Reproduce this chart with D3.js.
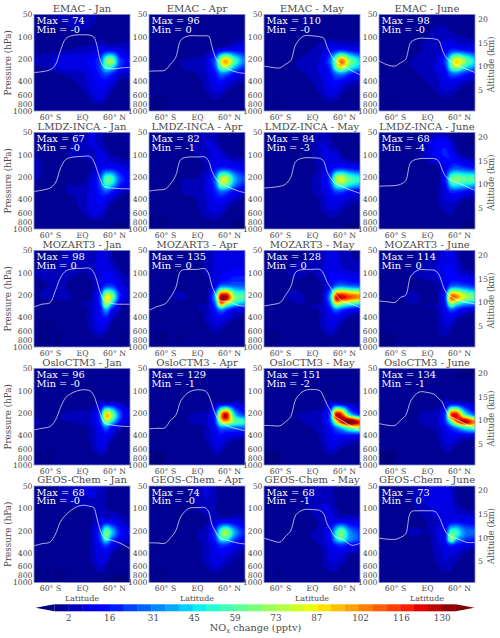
<!DOCTYPE html>
<html><head><meta charset="utf-8">
<script src="https://cdn.jsdelivr.net/npm/d3@7"></script>
<style>
html,body{margin:0;padding:0;background:#fff}
text{font-family:"DejaVu Serif",serif;}
</style></head><body><svg id="c" width="500" height="638"></svg>
<script>
const models=["EMAC","LMDZ-INCA","MOZART3","OsloCTM3","GEOS-Chem"];
const months=["Jan","Apr","May","June"];
const maxLabels=[[74,96,110,98],[67,82,84,68],[98,135,128,114],[96,129,151,134],[68,74,68,73]];
const minLabels=[["-0","0","-0","-0"],["-0","-1","-3","-4"],["0","0","0","0"],["-0","-1","-2","-1"],["-0","-0","-1","0"]];
const pressureTicks=[50,100,200,400,600,800,1000];
const altitudeTicks=[5,10,15,20];
const latTicks=[-60,0,60];
const latTickLabels=["60° S","EQ","60° N"];
const colorbarTicks=[2,16,31,45,59,73,87,102,116,130];
const gridLats=[-90,-60,-30,0,20,35,45,55,70,90];
const gridPressures=[50,70,100,150,210,260,310,400,600,1000];
const tropLats=[-90,-75,-60,-50,-40,-30,-15,0,15,22,28,34,42,60,75,90];

const emacJan=[4,4,5,6,5,3,3,3,3,3, 3,3,4,5,4,3,3,3,3,3, 2,2,3,3,3,3,3,3,3,3, 3,3,4,5,6,10,12,12,8,6, 5,6,11,11,14,25,62,74,25,12, 3,5,9,9,13,24,52,48,20,12, 2,3,5,6,11,18,26,20,8,6, 2,2,3,5,9,14,14,9,4,3, 1,1,2,3,7,10,7,3,2,2, 1,1,0,0,1,1,-0.5,0,0,0];
const emacApr=[0,0,1,1,1,1,1,1,1,1, 0,0,1,1,1,1,1,1,1,1, 1,1,1,1,1,2,3,3,3,3, 1,1,1,2,3,6,10,13,13,12, 1,2,4,5,8,30,80,98,60,30, 1,2,4,5,8,24,62,70,38,18, 1,1,3,4,7,16,32,28,16,8, 1,1,2,3,6,12,15,10,6,4, 0,0,1,2,4,6,5,3,2,2, 0,0,0,0,0,0,0,0,0,0];
const emacMay=[1,1,1,2,2,2,2,2,1,1, 1,1,1,2,2,2,2,2,2,2, 1,1,2,3,3,3,3,3,3,3, 1,1,2,4,6,12,16,18,14,10, 1,2,4,6,9,30,70,108,70,45, 1,2,4,6,9,22,60,85,55,38, 1,1,3,5,8,16,30,35,22,12, 1,1,2,4,7,13,15,12,7,5, 0,0,1,2,5,8,7,4,2,2, 0,0,0,0,0,0,0,0,0,0];
const emacJun=[1,1,1,2,3,3,3,3,2,1, 1,1,1,3,4,4,3,3,2,2, 1,1,2,4,6,6,6,5,4,3, 1,1,2,5,5,11,18,18,15,12, 1,2,4,6,8,24,62,92,70,45, 1,2,4,6,8,18,55,72,48,32, 1,1,3,5,7,12,28,30,20,12, 1,1,2,4,6,10,11,10,6,4, 0,0,1,2,4,5,5,3,2,1, 0,0,0,0,0,0,0,0,0,0];
const lmdzJan=[2,3,2,5,7,5,2,2,1,1, 3,3,3,6,7,6,3,2,1,1, 4,3,4,5,6,8,7,4,3,2, 5,3,3,2,4,12,14,14,10,7, 5,2,4,3,8,26,60,58,25,12, 2,2,4,4,9,24,50,42,18,8, 1,2,4,5,9,18,26,18,8,4, 1,2,3,5,9,14,10,6,3,2, 0,1,2,4,8,8,4,2,1,1, 0,0,0,0,0,0,0,-0.5,-0.5,0];
const lmdzApr=[1,1,1,4,6,4,2,1,1,1, 1,1,2,5,7,6,3,2,1,1, 1,2,3,4,6,9,8,5,3,3, 1,1,3,3,5,14,18,18,14,10, 1,2,4,4,9,30,78,80,40,22, 1,2,4,5,9,25,62,62,30,15, 1,1,4,5,8,18,30,25,14,6, 1,1,3,4,7,13,14,10,6,3, 0,0,1,3,6,7,6,3,1,1, 0,0,0,0,0,0,0,0,-0.5,-0.5];
const lmdzMay=[1,1,1,3,5,4,2,1,0,0, 1,1,2,4,7,5,3,2,1,0, 1,1,2,4,7,8,8,4,2,-0.5, 1,1,2,3,6,12,16,18,15,12, 1,1,3,4,8,25,72,82,62,50, 1,1,3,4,8,20,50,58,45,35, 1,1,3,4,7,14,24,24,16,10, 1,1,2,3,5,10,11,9,6,4, 0,0,1,2,4,6,6,4,3,2, 0,0,0,0,0,0,0,0,-1,-1];
const lmdzJun=[1,1,1,2,4,3,2,1,0,-1, 1,1,2,6,14,14,8,3,1,0, 1,1,2,6,14,17,15,8,3,2, 1,1,2,2,3,11,20,24,20,16, 1,1,3,0,2,18,60,66,62,60, 1,1,3,3,4,12,42,46,42,38, 1,1,2,3,4,9,20,20,15,10, 1,1,2,3,4,7,8,7,4,3, 0,0,1,2,3,4,5,3,2,1, 0,0,0,0,0,0,0,0,-1,-1];
const mozJan=[2,3,4,4,5,8,8,4,3,2, 3,3,5,4,5,9,9,5,3,2, 4,5,5,4,5,9,12,10,5,3, 3,4,4,0,4,10,22,22,10,5, 3,6,5,3,5,25,85,75,20,6, 1,1,3,4,6,20,78,45,8,4, 1,1,2,3,6,15,40,18,5,2, 0,0,1,3,6,14,16,7,2,1, 0,0,0,2,5,8,5,2,0,0, 0,0,0,0,0,0,0,0,0,0];
const mozApr=[1,2,2,3,5,7,8,8,9,8, 1,2,3,3,5,7,8,9,10,9, 2,3,4,3,5,8,10,12,14,14, 2,3,3,0,3,12,30,30,28,26, 1,3,5,2,4,45,135,135,70,60, 1,1,3,4,5,30,105,75,50,35, 1,1,2,4,5,18,36,24,12,8, 1,1,1,3,5,11,12,8,5,3, 0,0,0,2,3,5,4,2,1,1, 0,0,0,0,0,0,0,0,0,0];
const mozMay=[1,2,3,4,6,8,7,5,4,3, 2,2,4,4,6,9,9,6,5,4, 2,3,5,4,7,12,12,10,8,7, 2,3,3,1,4,14,28,32,28,25, 2,3,6,2,5,42,125,128,115,105, 1,1,4,4,5,30,85,72,60,50, 1,1,3,4,5,16,32,24,16,10, 1,1,2,3,5,11,11,8,4,3, 0,0,1,2,4,7,5,2,1,1, 0,0,0,0,0,0,0,0,0,0];
const mozJun=[1,1,2,3,5,9,9,5,2,5, 1,1,3,4,6,10,11,7,3,3, 1,2,4,5,8,12,14,10,6,5, 1,2,3,3,4,10,26,28,24,18, 1,3,5,3,4,24,112,105,80,62, 1,1,4,4,4,18,75,55,40,35, 1,1,3,4,4,12,28,20,12,8, 1,1,2,3,4,8,10,6,3,2, 0,0,1,2,4,6,4,2,1,1, 0,0,0,0,0,0,0,0,0,0];
const osloJan=[0,0,0,0,0,0,0,0,0,0, 0,0,0,0,0,0,0,0,0,0, 1,1,1,1,1,1,1,1,1,1, 1,1,1,1,2,8,10,10,6,3, 2,2,5,6,8,26,96,75,28,6, 5,3,4,5,8,22,70,50,18,5, 3,1,2,3,5,14,30,16,6,3, 1,1,1,3,5,10,12,7,3,2, 0,0,1,2,4,8,6,2,1,1, 0,0,0,0,0,0,0,0,0,0];
const osloApr=[0,0,0,0,0,0,0,0,0,0, 0,0,0,0,0,0,0,0,0,0, 1,1,1,1,1,1,1,1,1,1, 1,1,1,1,2,6,9,9,8,5, 1,1,3,5,6,24,100,129,45,20, 1,1,3,5,7,22,80,95,65,55, 1,1,2,3,5,14,32,32,30,28, 1,1,1,3,5,10,14,10,8,6, 0,0,1,2,3,7,6,3,2,2, 0,0,0,0,0,0,0,0,0,0];
const osloMay=[0,0,0,0,0,0,0,0,0,0, 0,0,0,0,0,0,0,0,0,0, 1,1,1,1,1,1,1,1,1,1, 1,1,1,2,3,8,12,10,6,4, 1,1,4,5,7,30,130,120,50,18, 1,1,3,5,7,25,80,125,151,120, 1,1,3,4,6,15,30,45,70,80, 1,1,2,3,5,11,15,14,14,12, 0,0,1,2,4,7,6,4,3,3, 0,0,0,0,0,0,0,0,0,0];
const osloJun=[0,0,0,0,0,0,0,0,0,0, 0,0,0,0,1,1,1,0,0,0, 1,1,1,1,2,3,3,2,1,1, 1,1,1,2,3,7,14,14,8,5, 1,1,3,5,6,25,115,125,60,25, 1,1,3,5,6,22,60,105,134,105, 1,1,2,4,5,12,22,35,55,65, 1,1,2,3,4,9,11,10,10,9, 0,0,1,2,3,5,5,3,2,2, 0,0,0,0,0,0,0,0,0,0];
const geosJan=[2,3,5,7,8,6,4,3,2,2, 3,3,5,6,7,5,4,2,2,2, 3,3,3,4,4,5,4,3,3,3, 2,1,2,3,4,10,12,12,7,4, 2,1,2,3,6,25,68,45,18,7, 0.5,1,1,3,6,22,55,28,12,6, 0.5,0.5,1,2,5,15,24,13,6,3, 0.5,0.5,1,2,5,10,11,5,2,2, 0,0,0,1,4,7,5,2,1,0.5, 0,0,0,0,0,0,-0.5,-1,-1,0];
const geosApr=[1,1,2,5,7,4,2,1,1,1, 1,1,2,5,7,5,2,2,1,1, 1,1,2,4,5,4,3,3,2,2, 1,1,2,3,4,8,10,11,10,7, 1,1,3,4,7,24,60,74,38,16, 0.5,1,3,4,7,20,50,52,25,12, 0.5,1,2,3,6,13,22,20,12,6, 0.5,1,1,3,6,10,12,9,6,3, 0,0,1,2,5,7,6,4,3,1, 0,0,0,0,0,0,0,0,0,0];
const geosMay=[1,1,2,4,5,5,2,1,1,1, 1,1,2,5,6,6,3,2,1,1, 1,1,2,5,7,7,4,3,2,1, 1,1,2,3,5,9,11,12,10,8, 1,1,4,4,6,16,48,68,35,22, 1,1,3,4,6,14,42,55,36,24, 1,1,2,3,5,10,18,22,15,10, 1,1,1,3,4,8,9,9,5,4, 0,0,1,2,4,6,6,4,2,2, 0,0,0,0,0,0,0,0,0,0];
const geosJun=[1,2,4,7,10,9,6,3,3,2, 1,2,4,8,10,10,7,4,0.5,1, 1,1,3,6,10,10,8,6,4,3, 1,1,2,4,6,9,12,13,12,10, 1,1,5,4,8,16,58,55,32,28, 1,1,3,3,7,16,73,40,24,18, 1,1,2,3,6,12,20,15,10,7, 1,1,2,3,5,8,8,7,4,3, 0,0,1,2,4,6,5,3,2,1, 0,0,0,0,0,0,0,0,0,0];

const tropEmacJan=[303,295,278,240,150,105,95,94,95,100,130,205,255,270,262,258];
const tropEmacApr=[290,288,282,235,190,110,97,97,97,98,135,185,225,275,300,312];
const tropEmacMay=[248,258,262,235,210,125,97,97,100,104,135,166,205,248,288,325];
const tropEmacJun=[210,238,248,225,200,118,105,105,107,112,145,182,210,248,274,303];
const tropLmdzJan=[312,300,280,240,150,115,107,105,105,122,158,212,268,282,286,288];
const tropLmdzApr=[308,298,290,248,190,115,107,107,107,122,166,202,235,274,303,325];
const tropLmdzMay=[280,275,265,250,202,122,110,110,112,122,166,202,235,274,303,330];
const tropLmdzJun=[265,262,260,250,223,125,113,112,113,122,155,190,215,243,270,303];
const tropMozJan=[288,265,252,175,115,94,88,87,87,99,128,182,235,262,265,265];
const tropMozApr=[320,285,262,215,160,94,90,90,88,104,150,190,235,245,272,282];
const tropMozMay=[280,268,252,202,155,97,90,90,90,104,132,155,190,248,265,295];
const tropMozJun=[240,245,250,215,200,110,91,91,93,104,135,175,202,235,252,262];
const tropOsloJan=[336,320,303,250,166,122,104,97,100,115,152,202,268,292,300,303];
const tropOsloApr=[325,320,315,250,215,135,104,97,100,115,152,202,252,303,325,345];
const tropOsloMay=[292,295,296,262,223,128,100,96,100,122,152,182,215,262,303,345];
const tropOsloJun=[276,290,292,250,215,135,104,105,113,128,140,175,215,252,288,325];
const tropGeosJan=[320,300,285,225,150,122,100,91,94,98,135,195,250,275,303,350];
const tropGeosApr=[292,293,295,252,202,128,100,98,98,112,166,202,248,274,292,303];
const tropGeosMay=[252,272,285,240,202,122,104,104,107,118,160,190,235,268,315,295];
const tropGeosJun=[252,260,262,248,220,112,108,108,110,128,160,202,235,262,288,288];

const fields=[[emacJan,emacApr,emacMay,emacJun],[lmdzJan,lmdzApr,lmdzMay,lmdzJun],[mozJan,mozApr,mozMay,mozJun],[osloJan,osloApr,osloMay,osloJun],[geosJan,geosApr,geosMay,geosJun]];
const tropopauses=[[tropEmacJan,tropEmacApr,tropEmacMay,tropEmacJun],[tropLmdzJan,tropLmdzApr,tropLmdzMay,tropLmdzJun],[tropMozJan,tropMozApr,tropMozMay,tropMozJun],[tropOsloJan,tropOsloApr,tropOsloMay,tropOsloJun],[tropGeosJan,tropGeosApr,tropGeosMay,tropGeosJun]];

// layout
const colX=[34,149,264,379], rowY=[14.5,132.5,250.5,368.5,486], pw=96, ph=96.5;
const TXT="#4a4a4a", FS=7.7;
const svg=d3.select("#c");
svg.append("rect").attr("width",500).attr("height",638).attr("fill","#fff");

// matplotlib jet
const jetR=d3.scaleLinear().domain([0,.35,.66,.89,1]).range([0,0,1,1,.5]);
const jetG=d3.scaleLinear().domain([0,.125,.375,.64,.91,1]).range([0,0,1,1,0,0]);
const jetB=d3.scaleLinear().domain([0,.11,.34,.65,1]).range([.5,1,1,0,0]);
const jet=t=>d3.rgb(jetR(t)*255,jetG(t)*255,jetB(t)*255).formatHex();

const levelStep=128/27, nSeg=29;
const levels=d3.range(nSeg+1).map(k=>2+(k-1)*levelStep);  // band edges, -2.74..134.7
const segColor=i=>jet((i+.5)/nSeg);
const thresholds=[0,4,...levels.slice(2)];
const bandColors=thresholds.map((t,i)=> i===nSeg ? jet(1) : segColor(i));

const xLat=d3.scaleLinear().domain([-90,90]).range([0,pw]);
const yP=d3.scaleLog().domain([50,1000]).range([0,ph]);
const yAlt=d3.scaleLinear().domain([0,20]).range([99,4.5]);
const latIdx=d3.scaleLinear().domain(gridLats).range(d3.range(gridLats.length)).clamp(true);
const pIdx=d3.scaleLinear().domain(gridPressures.map(Math.log)).range(d3.range(gridPressures.length)).clamp(true);

// cubic between neighbouring grid nodes, held inside the two node values
function cubic(a,b,c,d,t){
  const v=b+.5*t*(c-a+t*(2*a-5*b+4*c-d+t*(3*(b-c)+d-a)));
  return Math.max(Math.min(b,c),Math.min(Math.max(b,c),v));
}
const RES=2, W=pw*RES, H=Math.round(ph*RES);
function resample(f){
  const n=gridLats.length,m=gridPressures.length,out=new Float64Array(W*H);
  const at=(j,i)=>f[Math.max(0,Math.min(m-1,j))*n+Math.max(0,Math.min(n-1,i))];
  for(let j=0;j<H;j++){
    const p=yP.invert((j+.5)/RES), fy=pIdx(Math.log(p));
    const j0=Math.min(m-2,Math.floor(fy)), ty=fy-j0;
    for(let i=0;i<W;i++){
      const fx=latIdx(xLat.invert((i+.5)/RES));
      const i0=Math.min(n-2,Math.floor(fx)), tx=fx-i0;
      const row=k=>cubic(at(k,i0-1),at(k,i0),at(k,i0+1),at(k,i0+2),tx);
      out[j*W+i]=cubic(row(j0-1),row(j0),row(j0+1),row(j0+2),ty);
    }
  }
  d3.blur2({data:out,width:W,height:H},1);
  return out;
}
const contourGen=d3.contours().size([W,H]).thresholds(thresholds);
const geoPath=d3.geoPath(d3.geoIdentity().scale(1/RES));
const tropLine=d3.line().x((d,i)=>xLat(tropLats[i])).y(d=>yP(d)).curve(d3.curveCatmullRom.alpha(.5));

models.forEach((model,r)=>months.forEach((mon,c)=>{
  const g=svg.append("g").attr("transform",`translate(${colX[c]},${rowY[r]})`);
  const vals=resample(fields[r][c]);
  g.append("rect").attr("width",pw).attr("height",ph).attr("fill",jet(0));
  const cs=contourGen(vals);
  g.selectAll("path.band").data(cs).join("path").attr("class","band")
    .attr("d",d=>geoPath(d)).attr("fill",(d,i)=>bandColors[i]);
  g.append("path").attr("d",tropLine(tropopauses[r][c])).attr("fill","none")
    .attr("stroke","#fff").attr("stroke-width",.8).attr("stroke-opacity",.85);
  g.append("rect").attr("width",pw).attr("height",ph).attr("fill","none")
    .attr("stroke","#8f93c4").attr("stroke-width",.8);
  g.append("text").attr("x",pw/2).attr("y",-2.6).attr("text-anchor","middle")
    .attr("font-size",10).attr("fill",TXT).text(`${model} - ${mon}`);
  g.append("text").attr("x",2.5).attr("y",9.7).attr("font-size",9.8).attr("fill","#fff").text(`Max = ${maxLabels[r][c]}`);
  g.append("text").attr("x",2.5).attr("y",18.4).attr("font-size",9.8).attr("fill","#fff").text(`Min = ${minLabels[r][c]}`);

  // axes
  const ay=g.append("g").call(d3.axisLeft(yP).tickValues(pressureTicks).tickFormat(d3.format("d")).tickSize(0).tickPadding(1.5));
  ay.select(".domain").remove();
  ay.selectAll("text").attr("font-size",FS).attr("font-family","DejaVu Serif").attr("fill",TXT);
  const ax=g.append("g").attr("transform",`translate(0,${ph})`)
    .call(d3.axisBottom(xLat).tickValues(latTicks).tickFormat((d,i)=>latTickLabels[i]).tickSize(0).tickPadding(3.5));
  ax.select(".domain").remove();
  ax.selectAll("text").attr("font-size",FS).attr("font-family","DejaVu Serif").attr("fill",TXT);
  if(c===0){
    g.append("text").attr("transform",`translate(${-23},${ph/2}) rotate(-90)`)
      .attr("text-anchor","middle").attr("font-size",8.8).attr("fill",TXT).text("Pressure (hPa)");
  }
  if(c===3){
    const ar=g.append("g").attr("transform",`translate(${pw},0)`)
      .call(d3.axisRight(yAlt).tickValues(altitudeTicks).tickFormat(d3.format("d")).tickSize(0).tickPadding(3));
    ar.select(".domain").remove();
    ar.selectAll("text").attr("font-size",FS).attr("font-family","DejaVu Serif").attr("fill",TXT);
    g.append("text").attr("transform",`translate(${pw+19},${50}) rotate(-90)`)
      .attr("text-anchor","middle").attr("font-size",8.4).attr("fill",TXT).text("Altitude (km)");
  }
  if(r===models.length-1){
    g.append("text").attr("x",pw/2).attr("y",ph+18.5).attr("text-anchor","middle")
      .attr("font-size",8).attr("fill",TXT).text("Latitude");
  }
}));

// colorbar
const xCb=d3.scaleLinear().domain([2,130]).range([68.3,441.7]);
const cb=svg.append("g").attr("transform","translate(0,604.3)");
const cbH=7;
cb.selectAll("rect").data(d3.range(nSeg)).join("rect")
  .attr("x",i=>xCb(levels[i])).attr("y",0).attr("width",i=>xCb(levels[i+1])-xCb(levels[i])+.3).attr("height",cbH)
  .attr("fill",i=>segColor(i));
const left=xCb(levels[0]), right=xCb(levels[nSeg]);
cb.append("path").attr("d",d3.line()([[left,0],[left-19,cbH/2],[left,cbH]])).attr("fill",jet(0));
cb.append("path").attr("d",d3.line()([[right,0],[right+19,cbH/2],[right,cbH]])).attr("fill",jet(1));
const axCb=cb.append("g").attr("transform",`translate(0,${cbH})`)
  .call(d3.axisBottom(xCb).tickValues(colorbarTicks).tickFormat(d3.format("d")).tickSize(0).tickPadding(3));
axCb.select(".domain").remove();
axCb.selectAll("text").attr("font-size",8.8).attr("font-family","DejaVu Serif").attr("fill",TXT);
const lab=svg.append("text").attr("x",255.5).attr("y",631).attr("text-anchor","middle").attr("font-size",9.7).attr("fill",TXT);
lab.append("tspan").text("NO");
lab.append("tspan").attr("font-size",6.8).attr("dy",1.8).text("x");
lab.append("tspan").attr("dy",-1.8).text(" change (pptv)");
</script></body></html>
